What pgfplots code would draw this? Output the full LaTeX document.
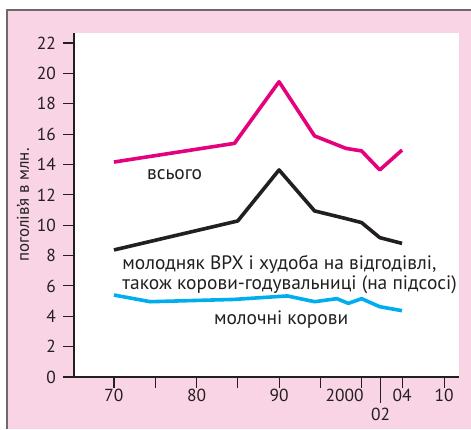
\documentclass[border=0pt]{standalone}
\usepackage{pgfplots}
\pgfplotsset{compat=1.18}
\usepackage{fontspec}
\setmainfont{PT Sans}
\definecolor{bgpink}{HTML}{F8D4E4}
\definecolor{lpink}{HTML}{E5007D}
\definecolor{lblack}{HTML}{231F20}
\definecolor{lblue}{HTML}{00AEEF}
\definecolor{frame}{HTML}{6E6A6B}
\definecolor{txt}{HTML}{231F20}
\begin{document}
\begin{tikzpicture}[x=1bp,y=1bp]
\useasboundingbox (0,0) rectangle (471,429);
\fill[bgpink] (7,0) rectangle (471,419);
\draw[frame,line width=1.2bp] (7,0) -- (7,419) -- (471,419);
\begin{axis}[
  at={(74bp,52bp)}, anchor=south west,
  scale only axis, width=385bp, height=344bp,
  xmin=1965.16, xmax=2011.8, ymin=0, ymax=22.66,
  axis x line=bottom, axis y line=left,
  axis line style={-, line width=1.3bp, draw=txt},
  axis background/.style={fill=white},
  tick align=outside, major tick length=11bp,
  tick style={line width=1.1bp, draw=txt},
  ytick={0,2,...,22},
  xtick={1970,1975,1980,1985,1990,1995,2000,2004.9,2010},
  xticklabels={70,,80,,90,,2000\kern34bp,04,10},
  extra x ticks={2002.3},
  extra x tick labels={02},
  extra x tick style={major tick length=26bp, tick style={line width=1.3bp}, xticklabel style={yshift=-4bp}},
  ticklabel style={font=\fontsize{17.5}{21}\selectfont, text=txt},
  xticklabel style={inner sep=1pt},
  yticklabel style={inner sep=1pt, xshift=-6bp},
  /pgf/number format/assume math mode=true,
  clip=false,
]
\addplot[lpink, line width=3.6bp, line join=round] coordinates {
 (1970,14.16) (1984.6,15.39) (1990,19.45) (1994.3,15.88) (1998.1,15.06) (2000,14.89) (2002.2,13.64) (2004.9,14.95)};
\addplot[lblack, line width=3.6bp, line join=round] coordinates {
 (1970,8.37) (1985,10.28) (1990,13.64) (1994.3,10.94) (1998,10.45) (2000,10.17) (2002.2,9.18) (2004.9,8.8)};
\addplot[lblue, line width=3.6bp, line join=round] coordinates {
 (1970,5.40) (1974.4,4.96) (1984.5,5.11) (1991,5.34) (1994.3,4.96) (1997,5.16) (1998.4,4.85) (2000,5.16) (2002.2,4.63) (2004.9,4.37)};
\node[txt, font=\fontsize{19.5}{22}\selectfont, anchor=west] at (axis cs:1973.6,13.3) {всього};
\node[txt, font=\fontsize{19.5}{22}\selectfont, anchor=west, align=left, inner sep=0pt] at (axis cs:1971.0,6.75)
 {молодняк ВРХ і худоба на відгодівлі,\\[-1.5bp]також корови-годувальниці (на підсосі)};
\node[txt, font=\fontsize{19.5}{22}\selectfont, anchor=west, inner sep=0pt] at (axis cs:1982.1,3.8) {молочні корови};
\end{axis}
\node[txt, rotate=90, font=\fontsize{17}{20}\selectfont, inner sep=0pt] at (23,224) {поголів’я в млн.};
\end{tikzpicture}
\end{document}
